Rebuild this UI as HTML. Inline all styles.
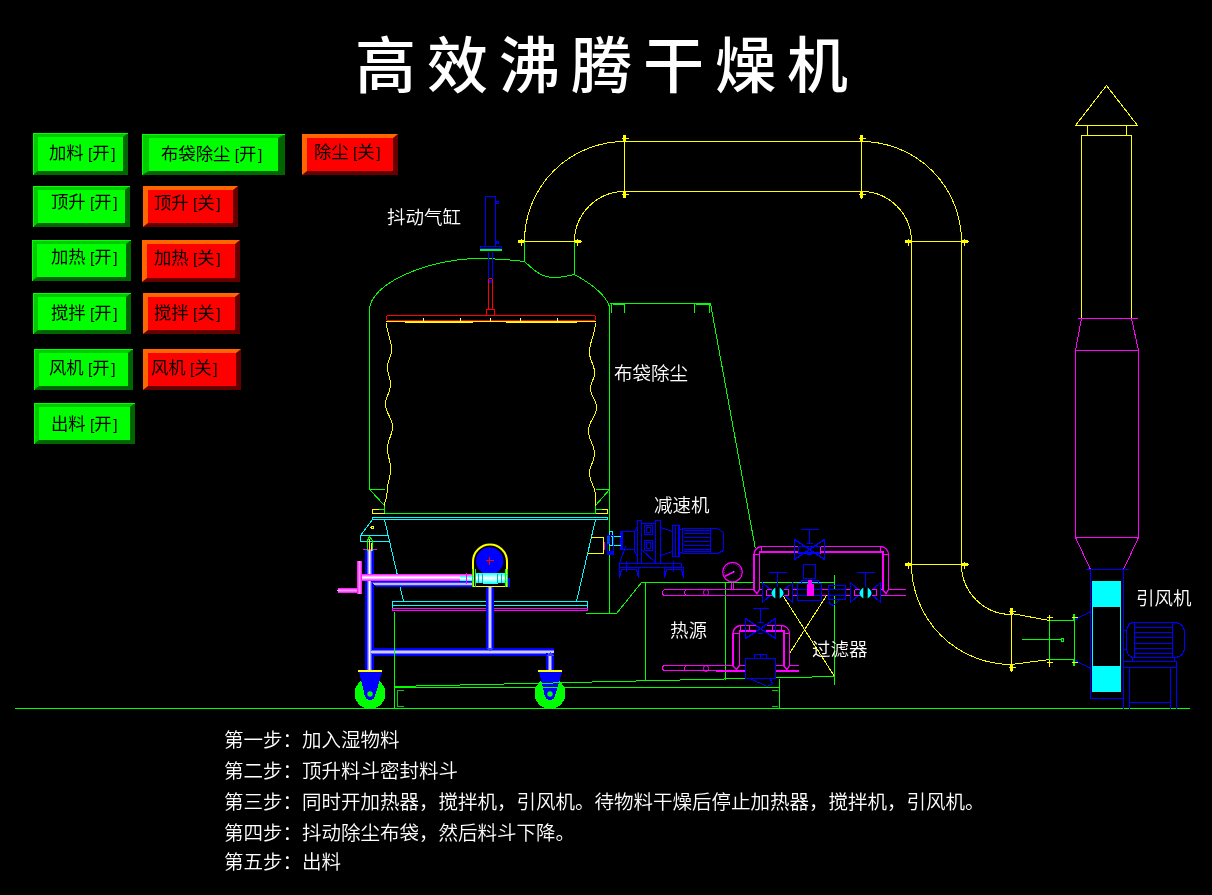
<!DOCTYPE html>
<html lang="zh-CN"><head><meta charset="utf-8"><title>高效沸腾干燥机</title>
<style>
html,body{margin:0;padding:0;background:#000;}
body{width:1212px;height:895px;overflow:hidden;position:relative;font-family:"Liberation Sans","Noto Sans CJK SC",sans-serif;}
#root{position:absolute;left:0;top:0;width:1212px;height:895px;background:#000;overflow:hidden;}
#dia{position:absolute;left:0;top:0;}
.t{will-change:transform;position:absolute;white-space:nowrap;color:#fff;line-height:1;}
#title{left:355px;top:36.6px;font-size:61px;letter-spacing:11px;font-family:"Liberation Sans","Noto Sans CJK SC",sans-serif;font-weight:500;transform-origin:0 0;}
.lab{font-size:18.5px;font-family:"Liberation Sans","Noto Sans CJK SC",sans-serif;font-weight:350;}
.step{font-size:19.5px;font-family:"Liberation Sans","Noto Sans CJK SC",sans-serif;font-weight:350;}
.btn{position:absolute;box-sizing:border-box;border-style:solid;}
.g{background:#00FF00;border-color:#00CC00 #006600 #006600 #00CC00;outline:0;}
.r{background:#FF0000;border-color:#FF6600 #660000 #660000 #FF6600;}
.btn span{will-change:transform;position:absolute;white-space:nowrap;font-size:17.33px;line-height:18px;color:#000;font-family:"Liberation Sans","Noto Sans CJK SC",sans-serif;font-weight:400;}
.btn span i{font-style:normal;display:inline-block;width:8.67px;text-align:left;}
.btn span i:first-of-type{text-align:right;}
.g::before{content:"";position:absolute;left:var(--bx);top:var(--by);right:var(--bx);bottom:var(--by);border-top:1px solid #00FF00;border-left:1px solid #00FF00;}
.btn span i{font-size:15.5px;position:relative;top:-0.5px;}
.btn span i:last-of-type{padding-left:1.7px;width:7px;}

</style></head>
<body>
<div id="root">
<svg id="dia" width="1212" height="895" viewBox="0 0 1212 895" shape-rendering="crispEdges">
<defs>
<linearGradient id="bv" x1="0" x2="1" y1="0" y2="0"><stop offset="0" stop-color="#0000FF"/><stop offset="0.18" stop-color="#0000FF"/><stop offset="0.5" stop-color="#FFFFFF"/><stop offset="0.82" stop-color="#0000FF"/><stop offset="1" stop-color="#0000FF"/></linearGradient>
<linearGradient id="bh" x1="0" x2="0" y1="0" y2="1"><stop offset="0" stop-color="#0000FF"/><stop offset="0.18" stop-color="#0000FF"/><stop offset="0.5" stop-color="#FFFFFF"/><stop offset="0.82" stop-color="#0000FF"/><stop offset="1" stop-color="#0000FF"/></linearGradient>
<linearGradient id="mh" x1="0" x2="0" y1="0" y2="1"><stop offset="0" stop-color="#FF00FF"/><stop offset="0.5" stop-color="#FFFFFF"/><stop offset="1" stop-color="#FF00FF"/></linearGradient>
<linearGradient id="mv" x1="0" x2="1" y1="0" y2="0"><stop offset="0" stop-color="#FF00FF"/><stop offset="0.5" stop-color="#FFFFFF"/><stop offset="1" stop-color="#FF00FF"/></linearGradient>
<linearGradient id="ch" x1="0" x2="0" y1="0" y2="1"><stop offset="0" stop-color="#00FFFF"/><stop offset="0.5" stop-color="#FFFFFF"/><stop offset="1" stop-color="#00FFFF"/></linearGradient>
<linearGradient id="mv2" x1="0" x2="1" y1="0" y2="0"><stop offset="0" stop-color="#FF00FF"/><stop offset="0.5" stop-color="#FF90FF"/><stop offset="1" stop-color="#FF00FF"/></linearGradient>
<linearGradient id="mh2" x1="0" x2="0" y1="0" y2="1"><stop offset="0" stop-color="#FF00FF"/><stop offset="0.5" stop-color="#FFA0FF"/><stop offset="1" stop-color="#FF00FF"/></linearGradient>
</defs>
<g transform="translate(0.5,0.5)" fill="none" stroke-linecap="butt">
<line x1="14" y1="708" x2="1189" y2="708" stroke="#00FF00" stroke-width="1" />
<path d="M524,241 A100,100 0 0 1 624,141" stroke="#FFFF00" stroke-width="1" fill="none" />
<path d="M574,241 A50,50 0 0 1 624,191" stroke="#FFFF00" stroke-width="1" fill="none" />
<line x1="518" y1="241" x2="581" y2="241" stroke="#FFFF00" stroke-width="1" />
<rect x="517.5" y="239.5" width="7" height="3" fill="#FFFF00" stroke="none" />
<line x1="521" y1="238" x2="521" y2="245" stroke="#FFFF00" stroke-width="1" />
<rect x="573.5" y="239.5" width="7" height="3" fill="#FFFF00" stroke="none" />
<line x1="577" y1="238" x2="577" y2="245" stroke="#FFFF00" stroke-width="1" />
<line x1="624" y1="135" x2="624" y2="197" stroke="#FFFF00" stroke-width="1" />
<rect x="622.5" y="134.5" width="3" height="7" fill="#FFFF00" stroke="none" />
<line x1="621" y1="138" x2="628" y2="138" stroke="#FFFF00" stroke-width="1" />
<rect x="622.5" y="190.5" width="3" height="7" fill="#FFFF00" stroke="none" />
<line x1="621" y1="194" x2="628" y2="194" stroke="#FFFF00" stroke-width="1" />
<line x1="624" y1="141" x2="861" y2="141" stroke="#FFFF00" stroke-width="1" />
<line x1="624" y1="191" x2="861" y2="191" stroke="#FFFF00" stroke-width="1" />
<line x1="861" y1="135" x2="861" y2="198" stroke="#FFFF00" stroke-width="1" />
<rect x="859.5" y="134.5" width="3" height="7" fill="#FFFF00" stroke="none" />
<line x1="858" y1="138" x2="865" y2="138" stroke="#FFFF00" stroke-width="1" />
<rect x="859.5" y="190.5" width="3" height="7" fill="#FFFF00" stroke="none" />
<line x1="858" y1="194" x2="865" y2="194" stroke="#FFFF00" stroke-width="1" />
<path d="M861,141 A100,100 0 0 1 961,241" stroke="#FFFF00" stroke-width="1" fill="none" />
<path d="M861,191 A50,50 0 0 1 911,241" stroke="#FFFF00" stroke-width="1" fill="none" />
<line x1="905" y1="241" x2="968" y2="241" stroke="#FFFF00" stroke-width="1" />
<rect x="904.5" y="239.5" width="7" height="3" fill="#FFFF00" stroke="none" />
<line x1="908" y1="238" x2="908" y2="245" stroke="#FFFF00" stroke-width="1" />
<rect x="960.5" y="239.5" width="7" height="3" fill="#FFFF00" stroke="none" />
<line x1="964" y1="238" x2="964" y2="245" stroke="#FFFF00" stroke-width="1" />
<line x1="911" y1="241" x2="911" y2="564" stroke="#FFFF00" stroke-width="1" />
<line x1="961" y1="241" x2="961" y2="564" stroke="#FFFF00" stroke-width="1" />
<line x1="905" y1="564" x2="968" y2="564" stroke="#FFFF00" stroke-width="1" />
<rect x="904.5" y="562.5" width="7" height="3" fill="#FFFF00" stroke="none" />
<line x1="908" y1="561" x2="908" y2="568" stroke="#FFFF00" stroke-width="1" />
<rect x="960.5" y="562.5" width="7" height="3" fill="#FFFF00" stroke="none" />
<line x1="964" y1="561" x2="964" y2="568" stroke="#FFFF00" stroke-width="1" />
<path d="M911,564 A100,100 0 0 0 1011,664" stroke="#FFFF00" stroke-width="1" fill="none" />
<path d="M961,564 A50,50 0 0 0 1011,614" stroke="#FFFF00" stroke-width="1" fill="none" />
<line x1="1011" y1="608" x2="1011" y2="671" stroke="#FFFF00" stroke-width="1" />
<rect x="1009.5" y="607.5" width="3" height="7" fill="#FFFF00" stroke="none" />
<line x1="1008" y1="611" x2="1015" y2="611" stroke="#FFFF00" stroke-width="1" />
<rect x="1009.5" y="663.5" width="3" height="7" fill="#FFFF00" stroke="none" />
<line x1="1008" y1="667" x2="1015" y2="667" stroke="#FFFF00" stroke-width="1" />
<line x1="1011" y1="613" x2="1049" y2="620" stroke="#FFFF00" stroke-width="1" />
<line x1="1011" y1="664" x2="1049" y2="659" stroke="#FFFF00" stroke-width="1" />
<rect x="1049" y="620" width="25" height="39" stroke="#00FF00" stroke-width="1" fill="none" />
<line x1="1049" y1="614" x2="1049" y2="620" stroke="#FFFF00" stroke-width="1" />
<line x1="1049" y1="659" x2="1049" y2="666" stroke="#FFFF00" stroke-width="1" />
<line x1="1046" y1="617" x2="1052" y2="617" stroke="#FFFF00" stroke-width="1" />
<line x1="1046" y1="662" x2="1052" y2="662" stroke="#FFFF00" stroke-width="1" />
<rect x="1072.5" y="613.5" width="2" height="6" fill="#00FF00" stroke="none" />
<rect x="1072.5" y="659.5" width="2" height="6" fill="#00FF00" stroke="none" />
<line x1="1071" y1="617" x2="1078" y2="617" stroke="#FFFF00" stroke-width="1" />
<line x1="1071" y1="662" x2="1078" y2="662" stroke="#FFFF00" stroke-width="1" />
<line x1="1021" y1="639" x2="1060" y2="639" stroke="#00FF00" stroke-width="1" />
<circle cx="1062" cy="639.5" r="1.6" stroke="#00FF00" stroke-width="1" fill="none"/>
<line x1="1075" y1="619" x2="1090" y2="611" stroke="#0000FF" stroke-width="1" />
<line x1="1075" y1="660" x2="1090" y2="668" stroke="#0000FF" stroke-width="1" />
<path d="M1106,85 L1075,125 L1137,125 Z" stroke="#FFFF00" stroke-width="1" fill="none" />
<line x1="1087" y1="125" x2="1087" y2="135" stroke="#FFFF00" stroke-width="1" />
<line x1="1126" y1="125" x2="1126" y2="135" stroke="#FFFF00" stroke-width="1" />
<path d="M1081,318 L1081,135 L1131,135 L1131,318" stroke="#FFFF00" stroke-width="1" fill="none" />
<line x1="1077" y1="318" x2="1137" y2="318" stroke="#FF00FF" stroke-width="1" />
<path d="M1081,318 L1075,350 L1075,537 L1090,569" stroke="#FF00FF" stroke-width="1" fill="none" />
<path d="M1131,318 L1138,350 L1138,537 L1123,569" stroke="#FF00FF" stroke-width="1" fill="none" />
<line x1="1075" y1="350" x2="1138" y2="350" stroke="#FF00FF" stroke-width="1" />
<line x1="1075" y1="537" x2="1138" y2="537" stroke="#FF00FF" stroke-width="1" />
<line x1="1085" y1="569" x2="1128" y2="569" stroke="#0000FF" stroke-width="1" />
<path d="M1090,569 L1090,698 L1123,698" stroke="#0000FF" stroke-width="1" fill="none" />
<line x1="1123" y1="569" x2="1123" y2="708" stroke="#0000FF" stroke-width="1" />
<rect x="1091.5" y="580.5" width="29" height="111" fill="#00FFFF" stroke="none" />
<rect x="1092.5" y="606.5" width="27" height="59" fill="#000" stroke="none" />
<path d="M1134,622 H1173 Q1184,622 1184,633 V646 Q1184,657 1173,657 H1134 Q1126,657 1126,646 V633 Q1126,622 1134,622 Z" stroke="#0000FF" stroke-width="1" fill="none" />
<line x1="1134" y1="622" x2="1134" y2="657" stroke="#0000FF" stroke-width="1" />
<line x1="1172" y1="622" x2="1172" y2="657" stroke="#0000FF" stroke-width="1" />
<line x1="1134" y1="627" x2="1172" y2="627" stroke="#0000FF" stroke-width="1" />
<line x1="1134" y1="632" x2="1172" y2="632" stroke="#0000FF" stroke-width="1" />
<line x1="1134" y1="637" x2="1172" y2="637" stroke="#0000FF" stroke-width="1" />
<line x1="1134" y1="643" x2="1172" y2="643" stroke="#0000FF" stroke-width="1" />
<line x1="1134" y1="648" x2="1172" y2="648" stroke="#0000FF" stroke-width="1" />
<line x1="1134" y1="653" x2="1172" y2="653" stroke="#0000FF" stroke-width="1" />
<rect x="1123" y="630" width="3" height="19" stroke="#0000FF" stroke-width="1" fill="none" />
<path d="M1132,657 V661 H1174 V657" stroke="#0000FF" stroke-width="1" fill="none" />
<path d="M1123,661 H1176 V708" stroke="#0000FF" stroke-width="1" fill="none" />
<line x1="1123" y1="667" x2="1176" y2="667" stroke="#0000FF" stroke-width="1" />
<line x1="1129" y1="667" x2="1129" y2="708" stroke="#0000FF" stroke-width="1" />
<line x1="1170" y1="667" x2="1170" y2="708" stroke="#0000FF" stroke-width="1" />
<line x1="1129" y1="702" x2="1170" y2="702" stroke="#0000FF" stroke-width="1" />
<path d="M384,513 V505 L369,489 H384 M369,489 V310 C369,283 425,260 475,258 Q500,258 524,261 C532,268 540,277 553,277 C562,277 568,275 574,274 C588,282 604,292 609,306 V613" stroke="#00FF00" stroke-width="1" fill="none" />
<line x1="524" y1="241" x2="524" y2="261" stroke="#00FF00" stroke-width="1" />
<line x1="574" y1="241" x2="574" y2="274" stroke="#00FF00" stroke-width="1" />
<path d="M595,513 V505 L609,489 H595" stroke="#00FF00" stroke-width="1" fill="none" />
<line x1="384" y1="513" x2="595" y2="513" stroke="#00FF00" stroke-width="1" />
<path d="M378,509 H372 V513 H384" stroke="#FFFF00" stroke-width="1" fill="none" />
<line x1="378" y1="509" x2="384" y2="509" stroke="#00FF00" stroke-width="1" />
<path d="M601,509 H607 V513 H595" stroke="#FFFF00" stroke-width="1" fill="none" />
<line x1="595" y1="509" x2="601" y2="509" stroke="#00FF00" stroke-width="1" />
<path d="M609,303 H710 L755,549" stroke="#00FF00" stroke-width="1" fill="none" />
<line x1="611" y1="303" x2="611" y2="312" stroke="#00FF00" stroke-width="1" />
<line x1="624" y1="303" x2="624" y2="312" stroke="#00FF00" stroke-width="1" />
<line x1="694" y1="303" x2="694" y2="312" stroke="#00FF00" stroke-width="1" />
<line x1="709" y1="303" x2="709" y2="312" stroke="#00FF00" stroke-width="1" />
<line x1="612" y1="304" x2="623" y2="304" stroke="#00FF00" stroke-width="1" />
<line x1="695" y1="304" x2="708" y2="304" stroke="#00FF00" stroke-width="1" />
<rect x="485" y="196" width="10" height="50" stroke="#0000FF" stroke-width="1" fill="none" />
<circle cx="497" cy="202" r="1.5" stroke="#0000FF" stroke-width="1" fill="none"/>
<circle cx="497" cy="242" r="1.5" stroke="#0000FF" stroke-width="1" fill="none"/>
<rect x="480" y="246" width="21" height="2" stroke="#0000FF" stroke-width="1" fill="none" />
<rect x="479.5" y="248.5" width="22" height="2" fill="#00FF00" stroke="none" />
<path d="M488,251 V278 M492,251 V278" stroke="#0000FF" stroke-width="1" fill="none" />
<circle cx="490" cy="281" r="1.5" stroke="#0000FF" stroke-width="1" fill="none"/>
<path d="M488,309 V279 Q490,276 492,279 V309" stroke="#FF0000" stroke-width="1" fill="none" />
<rect x="486" y="309" width="8" height="6" stroke="#FF0000" stroke-width="1" fill="none" />
<path d="M388,315 H593 Q595,315 595,317 V318 Q595,320 593,320 H388 Q386,320 386,318 V317 Q386,315 388,315 Z" stroke="#FF0000" stroke-width="1" fill="none" />
<line x1="423" y1="317" x2="423" y2="320" stroke="#FFFFC0" stroke-width="1" />
<line x1="460" y1="317" x2="460" y2="320" stroke="#FFFFC0" stroke-width="1" />
<line x1="490" y1="317" x2="490" y2="320" stroke="#FFFFC0" stroke-width="1" />
<line x1="520" y1="317" x2="520" y2="320" stroke="#FFFFC0" stroke-width="1" />
<line x1="557" y1="317" x2="557" y2="320" stroke="#FFFFC0" stroke-width="1" />
<path d="M386,321 Q440,323 490,321 Q540,323 595,321" stroke="#FFFF00" stroke-width="1" fill="none" />
<path d="M386,321 H595" stroke="#FFFF00" stroke-width="1" fill="none" />
<path d="M386,322 C386,335.5 391,335.5 391,349 C391,358.0 387,358.0 387,367 C387,375.5 390,375.5 390,384 C390,394.0 385,394.0 385,404 C385,415.0 392,415.0 392,426 C392,437.0 387,437.0 387,448 C387,458.0 390,458.0 390,468 C390,480.5 386.5,480.5 386.5,493 C386.5,499.0 384,499.0 384,505" stroke="#FFFF00" stroke-width="1" fill="none" />
<path d="M595,322 C595,337.0 589,337.0 589,352 C589,362.0 594,362.0 594,372 C594,380.5 590,380.5 590,389 C590,397.5 596,397.5 596,406 C596,418.5 588,418.5 588,431 C588,442.0 594,442.0 594,453 C594,463.0 589,463.0 589,473 C589,484.0 595,484.0 595,495 C595,500.0 595,500.0 595,505" stroke="#FFFF00" stroke-width="1" fill="none" />
<path d="M372,519 V517 H607 V519 Z" stroke="#00FFFF" stroke-width="1" fill="none" />
<path d="M384,519 L403,601 M595,519 L576,601" stroke="#00FFFF" stroke-width="1" fill="none" />
<path d="M392,601 H587 V608 H392 Z" stroke="#00FFFF" stroke-width="1" fill="none" />
<line x1="392" y1="605" x2="587" y2="605" stroke="#00FFFF" stroke-width="1" />
<rect x="392" y="608" width="195" height="2" stroke="#FF00FF" stroke-width="1" fill="none" />
<path d="M372,519 L360,535 V541 H388 M360,535 H387" stroke="#00FFFF" stroke-width="1" fill="none" />
<circle cx="372" cy="527" r="1.5" stroke="#FFFF00" stroke-width="1" fill="none"/>
<path d="M590,537 H603 V553 H587" stroke="#FFFF00" stroke-width="1" fill="none" />
<rect x="364.5" y="549.5" width="9" height="121" fill="url(#bv)" stroke="none"/>
<path d="M369.5,651.5 L373.5,647.5 H553.5 V655.5 H373.5 Z" fill="url(#bh)" stroke="none"/>
<rect x="485.5" y="586.5" width="8" height="62" fill="url(#bv)" stroke="none"/>
<path d="M485.5,647 H493.5 L489.5,651.5 Z" fill="#4040FF" stroke="none"/>
<rect x="545.5" y="652.5" width="8" height="18" fill="url(#bv)" stroke="none"/>
<path d="M545.5,655.5 L549.5,651.5 L553.5,655.5 Z" fill="#4040FF" stroke="none"/>
<path d="M369.5,580.5 H472.5 V586.5 H375.5 Z" fill="url(#bh)" stroke="none"/>
<rect x="361.5" y="573.5" width="112" height="7" fill="url(#mh)" stroke="none"/>
<rect x="356.5" y="560.5" width="5" height="33" fill="url(#mv2)" stroke="none"/>
<path d="M339.5,587.5 H356.5 V592.5 H339.5 Q337,592.5 337,590 Q337,587.5 339.5,587.5 Z" fill="url(#mh2)" stroke="none"/>
<line x1="362" y1="549" x2="376" y2="549" stroke="#FF00FF" stroke-width="1" />
<path d="M367,550 V540 L369,536 L372,540 V550" stroke="#00FF00" stroke-width="1" fill="none" />
<line x1="369" y1="538" x2="369" y2="550" stroke="#FFFF00" stroke-width="1" />
<line x1="371" y1="542" x2="371" y2="550" stroke="#FFFF00" stroke-width="1" />
<g shape-rendering="geometricPrecision">
<circle cx="489.2" cy="560.4" r="13.6" stroke="none" stroke-width="1" fill="#0000FF"/>
<path d="M472.5,586 V561 A17,17 0 0 1 506.5,561 V586" stroke="#FFFF00" stroke-width="2" fill="none" />
</g>
<line x1="472" y1="586" x2="507" y2="586" stroke="#FFFF00" stroke-width="1" />
<line x1="485" y1="560" x2="493" y2="560" stroke="#FF0000" stroke-width="1" />
<line x1="489" y1="556" x2="489" y2="564" stroke="#FF0000" stroke-width="1" />
<rect x="459.5" y="575.5" width="14" height="5" fill="url(#ch)" stroke="none"/>
<rect x="474.5" y="572.5" width="8" height="10" fill="url(#ch)" stroke="none"/>
<rect x="482.5" y="572" width="15" height="11.5" fill="url(#ch)" stroke="none"/>
<rect x="497.5" y="572.5" width="7" height="10" fill="url(#ch)" stroke="none"/>
<rect x="504.5" y="573.5" width="3" height="8" fill="url(#ch)" stroke="none"/>
<line x1="478" y1="573" x2="478" y2="582" stroke="#00B0C0" stroke-width="1" />
<line x1="482" y1="573" x2="482" y2="582" stroke="#00B0C0" stroke-width="1" />
<line x1="497" y1="573" x2="497" y2="582" stroke="#00B0C0" stroke-width="1" />
<line x1="501" y1="573" x2="501" y2="582" stroke="#00B0C0" stroke-width="1" />
<path d="M472,568 V586 M475,568 V586 M505,568 V586 M507,568 V586" stroke="#00FF00" stroke-width="1" fill="none" />
<rect x="507.5" y="577.5" width="2" height="9" fill="#0000FF" stroke="none" />
<line x1="466" y1="572" x2="466" y2="583" stroke="#FF00FF" stroke-width="1" />
<path d="M585,613 H616 L641,582 H834" stroke="#00FF00" stroke-width="1" fill="none" />
<line x1="645" y1="582" x2="645" y2="680" stroke="#00FF00" stroke-width="1" />
<line x1="725" y1="582" x2="725" y2="679" stroke="#00FF00" stroke-width="1" />
<line x1="834" y1="574" x2="834" y2="684" stroke="#00FF00" stroke-width="1" />
<line x1="394" y1="611" x2="394" y2="708" stroke="#00FF00" stroke-width="1" />
<line x1="394" y1="687" x2="779" y2="687" stroke="#00FF00" stroke-width="1" />
<line x1="394" y1="686" x2="834" y2="676" stroke="#00FF00" stroke-width="1" />
<line x1="779" y1="678" x2="779" y2="708" stroke="#00FF00" stroke-width="1" />
<path d="M403,690 H397 V706 H403" stroke="#00FF00" stroke-width="1" fill="none" opacity="0.8"/>
<path d="M771,690 H777 M771,706 H777" stroke="#00FF00" stroke-width="1" fill="none" opacity="0.8"/>
<circle cx="369.5" cy="693" r="15.4" stroke="none" stroke-width="1" fill="#00FF00"/>
<path d="M358.5,671.5 H381.5 L375,694 A5.5,5.5 0 0 1 364,694 Z" fill="#0000FF" stroke="none"/>
<rect x="357.5" y="669.5" width="24" height="2" fill="#FFFF00" stroke="none" />
<circle cx="369.5" cy="693.5" r="2.7" fill="#00FF00" stroke="none" shape-rendering="geometricPrecision"/>
<circle cx="549.5" cy="693" r="15.4" stroke="none" stroke-width="1" fill="#00FF00"/>
<path d="M538.5,671.5 H561.5 L555,694 A5.5,5.5 0 0 1 544,694 Z" fill="#0000FF" stroke="none"/>
<rect x="537.5" y="669.5" width="24" height="2" fill="#FFFF00" stroke="none" />
<circle cx="549.5" cy="693.5" r="2.7" fill="#00FF00" stroke="none" shape-rendering="geometricPrecision"/>
<line x1="540" y1="687" x2="565" y2="687" stroke="#00FF00" stroke-width="1" />
<line x1="540" y1="683" x2="565" y2="682" stroke="#00FF00" stroke-width="1" />
<path d="M682,528 H717 L723,532 V550 L717,553 H682 Z" stroke="#0000FF" stroke-width="1" fill="none" />
<line x1="710" y1="528" x2="710" y2="553" stroke="#0000FF" stroke-width="1" />
<line x1="683" y1="530" x2="710" y2="530" stroke="#0000FF" stroke-width="1" />
<line x1="683" y1="533" x2="710" y2="533" stroke="#0000FF" stroke-width="1" />
<line x1="683" y1="537" x2="710" y2="537" stroke="#0000FF" stroke-width="1" />
<line x1="683" y1="541" x2="710" y2="541" stroke="#0000FF" stroke-width="1" />
<line x1="683" y1="545" x2="710" y2="545" stroke="#0000FF" stroke-width="1" />
<line x1="683" y1="549" x2="710" y2="549" stroke="#0000FF" stroke-width="1" />
<line x1="683" y1="551" x2="710" y2="551" stroke="#0000FF" stroke-width="1" />
<rect x="672" y="525" width="7" height="31" stroke="#0000FF" stroke-width="1" fill="none" />
<line x1="675" y1="525" x2="675" y2="556" stroke="#0000FF" stroke-width="1" />
<line x1="678" y1="525" x2="678" y2="556" stroke="#0000FF" stroke-width="1" />
<line x1="679" y1="529" x2="682" y2="529" stroke="#0000FF" stroke-width="1" />
<line x1="679" y1="552" x2="682" y2="552" stroke="#0000FF" stroke-width="1" />
<path d="M660,527 L672,531 M660,555 L672,551" stroke="#0000FF" stroke-width="1" fill="none" />
<rect x="637" y="520" width="4" height="43" stroke="#0000FF" stroke-width="1" fill="none" />
<rect x="655" y="520" width="5" height="43" stroke="#0000FF" stroke-width="1" fill="none" />
<path d="M641,523 H655 M641,549 L655,562" stroke="#0000FF" stroke-width="1" fill="none" />
<rect x="644" y="525" width="8" height="9" stroke="#0000FF" stroke-width="1" fill="none" />
<rect x="646" y="527" width="4" height="5" stroke="#0000FF" stroke-width="1" fill="none" />
<rect x="644" y="540" width="8" height="10" stroke="#0000FF" stroke-width="1" fill="none" />
<rect x="646" y="542" width="4" height="6" stroke="#0000FF" stroke-width="1" fill="none" />
<path d="M637,526 L634,531 V551 L637,556" stroke="#0000FF" stroke-width="1" fill="none" />
<path d="M620,531 H634 M622,549 H634" stroke="#0000FF" stroke-width="1" fill="none" />
<rect x="619.5" y="530.5" width="3" height="19" fill="#0000FF" stroke="none" />
<path d="M625,546 L619,563" stroke="#0000FF" stroke-width="1" fill="none" />
<line x1="610" y1="536" x2="620" y2="536" stroke="#00FFFF" stroke-width="1" />
<line x1="610" y1="545" x2="620" y2="545" stroke="#00FFFF" stroke-width="1" />
<rect x="609" y="531" width="3" height="14" stroke="#00FFFF" stroke-width="1" fill="none" />
<rect x="607" y="535" width="6" height="19" stroke="#0000FF" stroke-width="1" fill="none" />
<rect x="606.5" y="550.5" width="6" height="3" fill="#0000FF" stroke="none" />
<rect x="606.5" y="535.5" width="3" height="8" fill="#0040FF" stroke="none" />
<line x1="604" y1="541" x2="604" y2="549" stroke="#FF00FF" stroke-width="1" />
<path d="M619,563 H681 V567 H619 Z" stroke="#0000FF" stroke-width="1" fill="none" />
<path d="M619,567 V577 L621,569 H636 L638,577 V567" stroke="#0000FF" stroke-width="1" fill="none" />
<path d="M664,567 V577 L666,569 H681 L683,577 V567 H681" stroke="#0000FF" stroke-width="1" fill="none" />
<line x1="626" y1="560" x2="626" y2="571" stroke="#0000FF" stroke-width="1" />
<line x1="673" y1="560" x2="673" y2="571" stroke="#0000FF" stroke-width="1" />
<line x1="636" y1="567" x2="664" y2="567" stroke="#0000FF" stroke-width="1" />
<g shape-rendering="geometricPrecision">
<circle cx="732" cy="571.6" r="9.8" stroke="#FF00FF" stroke-width="1.2" fill="none"/>
<circle cx="732" cy="571.6" r="8.2" stroke="#FF00FF" stroke-width="1.6" fill="none" stroke-dasharray="0.6 2.3" opacity="0.75" pathLength="100" stroke-dashoffset="0" transform="rotate(150 732 571.6)" style="stroke-dasharray:0.9 2.9 0.9 2.9 0.9 2.9 0.9 2.9 0.9 2.9 0.9 2.9 0.9 2.9 0.9 2.9 0.9 2.9 0.9 2.9 0.9 2.9 0.9 2.9 0.9 2.9 0.9 2.9 0.9 2.9 0.9 2.9 0.9 2.9 0.9 34.4"/>
<line x1="734" y1="571" x2="724" y2="576" stroke="#FF00FF" stroke-width="1.6" />
</g>
<rect x="732.5" y="570.5" width="1" height="1" fill="#60A0FF" stroke="none" />
<line x1="731" y1="582" x2="731" y2="589" stroke="#FF00FF" stroke-width="1" />
<line x1="733" y1="582" x2="733" y2="589" stroke="#FF00FF" stroke-width="1" />
<path d="M905,589 H665 Q662,589 662,592.0 Q662,595 665,595 H905" stroke="#FF00FF" stroke-width="1" fill="none" />
<path d="M686,589 Q682,592.0 686,595" stroke="#FF00FF" stroke-width="1" fill="none" />
<ellipse cx="705.5" cy="592.0" rx="2.6" ry="3" stroke="#FF00FF" fill="none" shape-rendering="geometricPrecision"/>
<path d="M686,665 Q682,668.0 686,671" stroke="#FF00FF" stroke-width="1" fill="none" />
<ellipse cx="705.5" cy="668.0" rx="2.6" ry="3" stroke="#FF00FF" fill="none" shape-rendering="geometricPrecision"/>
<path d="M798,665 H665 Q662,665 662,667.5 Q662,670 665,670 H798" stroke="#FF00FF" stroke-width="1" fill="none" />
<rect x="715.5" y="669.5" width="83" height="2" fill="#FF00FF" stroke="none" />
<rect x="774.5" y="664.5" width="24" height="1" fill="#FF00FF" stroke="none" />
<path d="M753,589.5 V554 Q753,546 761,546 H880 Q888,546 888,554 V589.5 L885.5,593 L882,589.5 V551 H759 V589.5 L756.5,593 Z" fill="#000" stroke="none"/>
<rect x="752.5" y="553.5" width="2" height="36" fill="#FF00FF" stroke="none" />
<rect x="758.5" y="552.5" width="1" height="37" fill="#FF00FF" stroke="none" />
<rect x="881.5" y="552.5" width="2" height="37" fill="#FF00FF" stroke="none" />
<rect x="887.5" y="553.5" width="1" height="36" fill="#FF00FF" stroke="none" />
<rect x="760.5" y="545.5" width="120" height="1" fill="#FF00FF" stroke="none" />
<rect x="758.5" y="550.5" width="125" height="2" fill="#FF00FF" stroke="none" />
<path d="M753.5,554 A8,8 0 0 1 761,546" stroke="#FF00FF" stroke-width="1.6" fill="none" shape-rendering="geometricPrecision"/>
<path d="M880,546 A8,8 0 0 1 888,554" stroke="#FF00FF" stroke-width="1.3" fill="none" shape-rendering="geometricPrecision"/>
<line x1="761" y1="546" x2="761" y2="551" stroke="#FF00FF" stroke-width="1" />
<line x1="753" y1="554" x2="759" y2="554" stroke="#FF00FF" stroke-width="1" />
<line x1="880" y1="546" x2="880" y2="551" stroke="#FF00FF" stroke-width="1" />
<line x1="882" y1="554" x2="888" y2="554" stroke="#FF00FF" stroke-width="1" />
<path d="M753,589 L756.5,593 L759,589" stroke="#FF00FF" stroke-width="1.4" fill="none" shape-rendering="geometricPrecision"/>
<path d="M882,589 L885.5,593 L888,589" stroke="#FF00FF" stroke-width="1.4" fill="none" shape-rendering="geometricPrecision"/>
<path d="M732,665.5 V633 Q732,625 740,625 H781 Q789,625 789,633 V665.5 L786.5,669 L783,665.5 V630 H739 V665.5 L736.0,669 Z" fill="#000" stroke="none"/>
<rect x="731.5" y="632.5" width="2" height="33" fill="#FF00FF" stroke="none" />
<rect x="738.5" y="631.5" width="1" height="34" fill="#FF00FF" stroke="none" />
<rect x="782.5" y="631.5" width="2" height="34" fill="#FF00FF" stroke="none" />
<rect x="788.5" y="632.5" width="1" height="33" fill="#FF00FF" stroke="none" />
<rect x="739.5" y="624.5" width="42" height="1" fill="#FF00FF" stroke="none" />
<rect x="738.5" y="629.5" width="46" height="2" fill="#FF00FF" stroke="none" />
<path d="M732.5,633 A8,8 0 0 1 740,625" stroke="#FF00FF" stroke-width="1.6" fill="none" shape-rendering="geometricPrecision"/>
<path d="M781,625 A8,8 0 0 1 789,633" stroke="#FF00FF" stroke-width="1.3" fill="none" shape-rendering="geometricPrecision"/>
<line x1="740" y1="625" x2="740" y2="630" stroke="#FF00FF" stroke-width="1" />
<line x1="732" y1="633" x2="739" y2="633" stroke="#FF00FF" stroke-width="1" />
<line x1="781" y1="625" x2="781" y2="630" stroke="#FF00FF" stroke-width="1" />
<line x1="783" y1="633" x2="789" y2="633" stroke="#FF00FF" stroke-width="1" />
<path d="M732,665 L736.0,669 L739,665" stroke="#FF00FF" stroke-width="1.4" fill="none" shape-rendering="geometricPrecision"/>
<path d="M783,665 L786.5,669 L789,665" stroke="#FF00FF" stroke-width="1.4" fill="none" shape-rendering="geometricPrecision"/>
<line x1="749" y1="625" x2="749" y2="631" stroke="#FF00FF" stroke-width="1" />
<line x1="772" y1="625" x2="772" y2="631" stroke="#FF00FF" stroke-width="1" />
<rect x="797.5" y="544.5" width="23" height="9" fill="#000" stroke="none" />
<line x1="798" y1="546" x2="820" y2="546" stroke="#0000FF" stroke-width="1" />
<rect x="797.5" y="551.5" width="22" height="2" fill="#0000FF" stroke="none" />
<line x1="798" y1="546" x2="798" y2="553" stroke="#0000FF" stroke-width="1" />
<line x1="820" y1="546" x2="820" y2="553" stroke="#FF00FF" stroke-width="1" />
<path d="M794,539 L824,559 V539 L794,559 Z" stroke="#0000FF" stroke-width="1.5" fill="none" />
<line x1="809" y1="529" x2="809" y2="543" stroke="#0000FF" stroke-width="1" />
<line x1="800" y1="529" x2="818" y2="529" stroke="#0000FF" stroke-width="1" />
<line x1="806" y1="543" x2="812" y2="543" stroke="#0000FF" stroke-width="1" />
<line x1="806" y1="554" x2="811" y2="554" stroke="#0000FF" stroke-width="1" />
<rect x="747.5" y="623.5" width="25" height="9" fill="#000" stroke="none" />
<path d="M745,618 L775,638 V618 L745,638 Z" stroke="#0000FF" stroke-width="1.5" fill="none" />
<line x1="760" y1="608" x2="760" y2="622" stroke="#0000FF" stroke-width="1" />
<line x1="752" y1="608" x2="768" y2="608" stroke="#0000FF" stroke-width="1" />
<line x1="757" y1="622" x2="763" y2="622" stroke="#0000FF" stroke-width="1" />
<line x1="757" y1="633" x2="762" y2="633" stroke="#0000FF" stroke-width="1" />
<path d="M747,625 H755 M766,625 H774" stroke="#FF00FF" stroke-width="1" fill="none" />
<rect x="746.5" y="629.5" width="9" height="2" fill="#FF00FF" stroke="none" />
<rect x="765.5" y="629.5" width="9" height="2" fill="#FF00FF" stroke="none" />
<line x1="749" y1="625" x2="749" y2="631" stroke="#FF00FF" stroke-width="1" />
<line x1="772" y1="625" x2="772" y2="631" stroke="#FF00FF" stroke-width="1" />
<rect x="761.5" y="587.5" width="31" height="9" fill="#000" stroke="none" />
<path d="M762,582 V602 L773,592 Z" stroke="#0000FF" stroke-width="1" fill="none" />
<path d="M792,582 V602 L781,592 Z" stroke="#0000FF" stroke-width="1" fill="none" />
<path d="M774.8,587 V598 Q767,592.5 774.8,587 Z" fill="#00FFFF" stroke="none" shape-rendering="geometricPrecision"/>
<path d="M779.2,587 V598 Q787,592.5 779.2,587 Z" fill="#00FFFF" stroke="none" shape-rendering="geometricPrecision"/>
<line x1="777" y1="572" x2="777" y2="586" stroke="#0000FF" stroke-width="1" />
<line x1="768" y1="572" x2="786" y2="572" stroke="#0000FF" stroke-width="1" />
<path d="M766,589 H771 M766,595 H771 M783,589 H788 M783,595 H788" stroke="#FF00FF" stroke-width="1" fill="none" />
<path d="M766,589 V595 M788,589 V595" stroke="#FF00FF" stroke-width="1" fill="none" />
<rect x="849.5" y="587.5" width="31" height="9" fill="#000" stroke="none" />
<path d="M850,582 V602 L861,592 Z" stroke="#0000FF" stroke-width="1" fill="none" />
<path d="M880,582 V602 L869,592 Z" stroke="#0000FF" stroke-width="1" fill="none" />
<path d="M862.8,587 V598 Q855,592.5 862.8,587 Z" fill="#00FFFF" stroke="none" shape-rendering="geometricPrecision"/>
<path d="M867.2,587 V598 Q875,592.5 867.2,587 Z" fill="#00FFFF" stroke="none" shape-rendering="geometricPrecision"/>
<line x1="865" y1="572" x2="865" y2="586" stroke="#0000FF" stroke-width="1" />
<line x1="856" y1="572" x2="874" y2="572" stroke="#0000FF" stroke-width="1" />
<path d="M854,589 H859 M854,595 H859 M871,589 H876 M871,595 H876" stroke="#FF00FF" stroke-width="1" fill="none" />
<path d="M854,589 V595 M876,589 V595" stroke="#FF00FF" stroke-width="1" fill="none" />
<rect x="797.5" y="588.5" width="23" height="7" fill="#000" stroke="none" />
<rect x="803" y="564" width="12" height="14" stroke="#0000FF" stroke-width="1" fill="none" />
<path d="M801,583 V580 H818 V583" stroke="#0000FF" stroke-width="1" fill="none" />
<rect x="797" y="583" width="24" height="17" stroke="#0000FF" stroke-width="1" fill="none" />
<line x1="797" y1="589" x2="821" y2="589" stroke="#0000FF" stroke-width="1" />
<line x1="797" y1="595" x2="821" y2="595" stroke="#0000FF" stroke-width="1" />
<path d="M806.5,595.5 V583 H807.5 V579.5 H811.5 V583 H813.5 V595.5 Z" fill="#FF00FF" stroke="none"/>
<rect x="827.5" y="588.5" width="18" height="7" fill="#000" stroke="none" />
<rect x="828" y="585" width="17" height="14" stroke="#0000FF" stroke-width="1" fill="none" />
<line x1="828" y1="589" x2="845" y2="589" stroke="#0000FF" stroke-width="1" />
<line x1="828" y1="595" x2="845" y2="595" stroke="#0000FF" stroke-width="1" />
<path d="M829,600 V603 L833,605 L838,600" stroke="#0000FF" stroke-width="1" fill="none" />
<line x1="783" y1="596" x2="834" y2="676" stroke="#FFFF00" stroke-width="1" />
<line x1="826" y1="595" x2="789" y2="653" stroke="#FFFF00" stroke-width="1" />
<rect x="745.5" y="658.5" width="29" height="19" fill="#000" stroke="none" />
<rect x="745" y="658" width="30" height="20" stroke="#0000FF" stroke-width="1" fill="none" />
<rect x="754" y="654" width="12" height="4" stroke="#0000FF" stroke-width="1" fill="none" />
<line x1="760" y1="654" x2="760" y2="658" stroke="#0000FF" stroke-width="1" />
<path d="M749,678 L767,686 L772,683 L770,679" stroke="#0000FF" stroke-width="1" fill="none" />
</g>
</svg>
<div class="t" id="title">高效沸腾干燥机</div>
<div class="t lab" style="left:386.5px;top:208.5px">抖动气缸</div>
<div class="t lab" style="left:614px;top:364.5px">布袋除尘</div>
<div class="t lab" style="left:654px;top:496.5px">减速机</div>
<div class="t lab" style="left:670px;top:622px">热源</div>
<div class="t lab" style="left:811.5px;top:641px">过滤器</div>
<div class="t lab" style="left:1136px;top:589.5px">引风机</div>
<div class="t step" style="left:223.7px;top:731.2px">第一步：加入湿物料</div>
<div class="t step" style="left:223.7px;top:762.2px">第二步：顶升料斗密封料斗</div>
<div class="t step" style="left:223.7px;top:793.2px">第三步：同时开加热器，搅拌机，引风机。待物料干燥后停止加热器，搅拌机，引风机。</div>
<div class="t step" style="left:223.7px;top:824px">第四步：抖动除尘布袋，然后料斗下降。</div>
<div class="t step" style="left:223.7px;top:852.5px">第五步：出料</div>

<div class="btn g" style="left:33px;top:133px;width:95px;height:42px;border-width:4px 5px;--bx:-5px;--by:-4px"><span style="left:11.4px;top:7.1px">加料<i>[</i>开<i>]</i></span></div>
<div class="btn g" style="left:142px;top:134px;width:143px;height:41px;border-width:4px 7px;--bx:-7px;--by:-4px"><span style="left:12.1px;top:7.3px">布袋除尘<i>[</i>开<i>]</i></span></div>
<div class="btn r" style="left:302px;top:134px;width:96px;height:41px;border-width:4px 5px;--bx:-5px;--by:-4px"><span style="left:7.2px;top:4.9px">除尘<i>[</i>关<i>]</i></span></div>
<div class="btn g" style="left:33px;top:186px;width:97px;height:41px;border-width:4px 5px;--bx:-5px;--by:-4px"><span style="left:12.9px;top:3.1px">顶升<i>[</i>开<i>]</i></span></div>
<div class="btn r" style="left:143px;top:186px;width:95px;height:41px;border-width:4px 5px;--bx:-5px;--by:-4px"><span style="left:6.4px;top:3.6px">顶升<i>[</i>关<i>]</i></span></div>
<div class="btn g" style="left:32px;top:240px;width:99px;height:41px;border-width:4px 5px;--bx:-5px;--by:-4px"><span style="left:13.9px;top:3.9px">加热<i>[</i>开<i>]</i></span></div>
<div class="btn r" style="left:142px;top:240px;width:98px;height:42px;border-width:4px 5px;--bx:-5px;--by:-4px"><span style="left:6.7px;top:4.6px">加热<i>[</i>关<i>]</i></span></div>
<div class="btn g" style="left:33px;top:293px;width:98px;height:41px;border-width:4px 5px;--bx:-5px;--by:-4px"><span style="left:12.9px;top:7.3px">搅拌<i>[</i>开<i>]</i></span></div>
<div class="btn r" style="left:143px;top:293px;width:97px;height:41px;border-width:4px 5px;--bx:-5px;--by:-4px"><span style="left:6.4px;top:7.3px">搅拌<i>[</i>关<i>]</i></span></div>
<div class="btn g" style="left:34px;top:349px;width:99px;height:41px;border-width:4px 5px;--bx:-5px;--by:-4px"><span style="left:9.5px;top:6.1px">风机<i>[</i>开<i>]</i></span></div>
<div class="btn r" style="left:143px;top:349px;width:98px;height:41px;border-width:4px 5px;--bx:-5px;--by:-4px"><span style="left:3.2px;top:6.1px">风机<i>[</i>关<i>]</i></span></div>
<div class="btn g" style="left:34px;top:403px;width:101px;height:41px;border-width:4px 5px;--bx:-5px;--by:-4px"><span style="left:11.9px;top:7.8px">出料<i>[</i>开<i>]</i></span></div>
</div>
</body></html>
